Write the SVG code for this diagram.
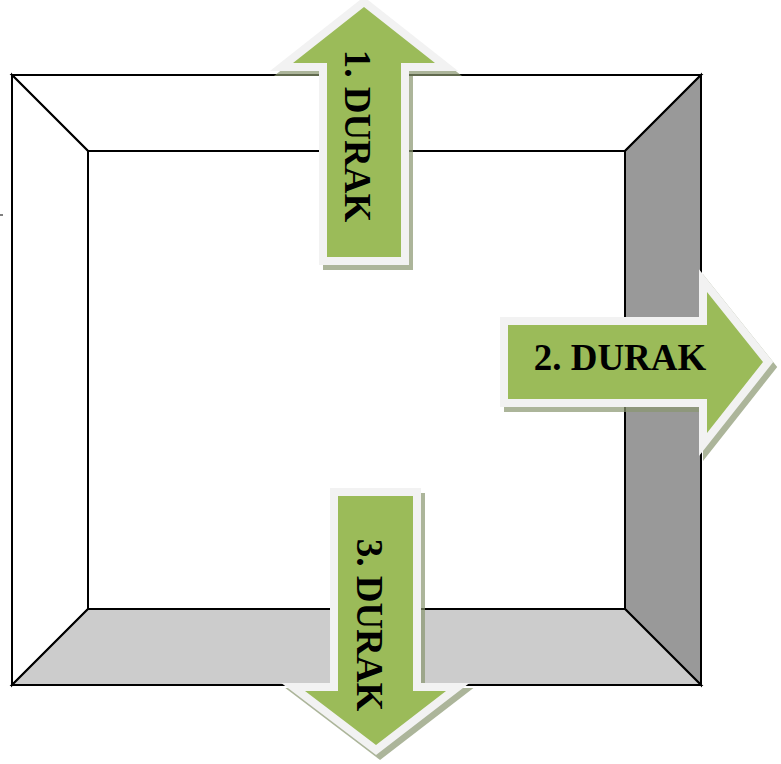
<svg xmlns="http://www.w3.org/2000/svg" width="781" height="764" viewBox="0 0 781 764">
<style>
.edge{stroke:#000;stroke-width:2;stroke-linejoin:miter}
.shadow{fill:#8a9770;opacity:0.7;stroke:#8a9770;stroke-width:16;stroke-opacity:1;stroke-linejoin:miter}
.outline{fill:#f2f2f2;stroke:#f2f2f2;stroke-width:16;stroke-linejoin:miter}
.arrow{fill:#9bbb59}
.lbl{font-family:"Liberation Serif","Times New Roman",serif;font-weight:bold;font-size:37px;fill:#000}
</style>
<g id="frame">
<rect x="0" y="0" width="781" height="764" fill="#fff"/>
<polygon class="edge" fill="#fff" points="12,75 701,75 625,151 88,151"/>
<polygon class="edge" fill="#fff" points="12,75 88,151 88,609 12,685"/>
<polygon class="edge" fill="#999999" points="701,75 701,685 625,609 625,151"/>
<polygon class="edge" fill="#cccccc" points="12,685 88,609 625,609 701,685"/>
<line x1="0" y1="215" x2="3" y2="215" stroke="#000" stroke-width="1"/>
</g>
<g id="connectors"></g>
<g id="arrow1">
<polygon class="shadow" transform="translate(4,5)" points="364,7 435,63 401,63 401,257 327,257 327,63 293,63"/>
<polygon class="outline" points="364,7 435,63 401,63 401,257 327,257 327,63 293,63"/>
<polygon class="arrow" points="364,7 435,63 401,63 401,257 327,257 327,63 293,63"/>
<text class="lbl" text-anchor="middle" transform="translate(345,136) rotate(90)">1. DURAK</text>
</g>
<g id="arrow2">
<polygon class="shadow" transform="translate(4,5)" points="508,325 707,325 707,292 763,362 707,433 707,399 508,399"/>
<polygon class="outline" points="508,325 707,325 707,292 763,362 707,433 707,399 508,399"/>
<polygon class="arrow" points="508,325 707,325 707,292 763,362 707,433 707,399 508,399"/>
<text class="lbl" text-anchor="middle" x="620" y="370">2. DURAK</text>
</g>
<g id="arrow3">
<polygon class="shadow" transform="translate(4,5)" points="338,496 413,496 413,691 446,691 376,745 305,691 338,691"/>
<polygon class="outline" points="338,496 413,496 413,691 446,691 376,745 305,691 338,691"/>
<polygon class="arrow" points="338,496 413,496 413,691 446,691 376,745 305,691 338,691"/>
<text class="lbl" text-anchor="middle" transform="translate(357,625) rotate(90)">3. DURAK</text>
</g>
</svg>
